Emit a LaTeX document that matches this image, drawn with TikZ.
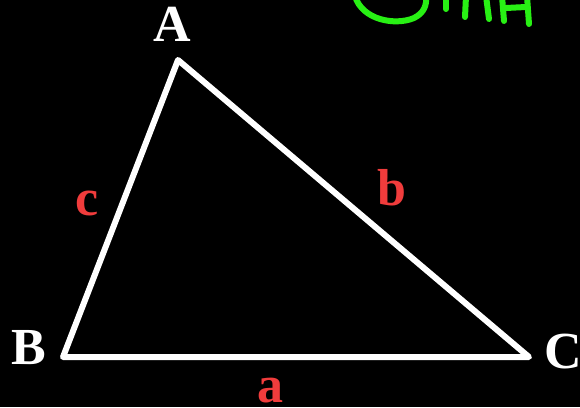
\documentclass[tikz,border=0pt]{standalone}
\usepackage{fontspec}
\setmainfont{Liberation Serif}
\usepackage{tikz}
\usetikzlibrary{positioning}
\usepackage{xcolor}
\definecolor{myred}{RGB}{240,60,60}
\definecolor{mygreen}{RGB}{40,240,20}

\tikzset{
  vertexlabel/.style={text=white, font=\bfseries\fontsize{52}{52}\selectfont, inner sep=0pt, anchor=base},
  sidelabel/.style={text=myred, font=\bfseries\fontsize{52}{52}\selectfont, inner sep=0pt, anchor=base},
  scribble/.style={mygreen, line width=6pt, line cap=round, line join=round}
}

\begin{document}
\begin{tikzpicture}[x=1pt,y=-1pt]
  \fill[black] (0,0) rectangle (580,407);
  \useasboundingbox (0,0) rectangle (580,407);

  \coordinate (A) at (178,60);
  \coordinate (B) at (63,357);
  \coordinate (C) at (529,357);

  % Triangle
  \draw[white, line width=6pt, line join=round] (A) -- (B) -- (C) -- cycle;

  % Vertex labels
  \node[vertexlabel] (labA) at (172,41) {A};
  \node[vertexlabel] (labB) at (29,364) {B};
  \node[vertexlabel] (labC) at (563,368) {C};

  % Side labels
  \node[sidelabel] (laba) at (270,402) {a};
  \node[sidelabel] (labb) at (392,205) {b};
  \node[sidelabel] (labc) at (87,215) {c};

  % Handwriting, cut off at the top
  \draw[scribble] (355,-4) .. controls (362,20) and (395,26) .. (414,18) .. controls (424,13) and (427,5) .. (426,-4);
  \draw[scribble] (446,-4) -- (446,9);
  \draw[scribble] (466,-4) -- (465,17);
  \draw[scribble] (486,-4) -- (489,19);
  \draw[scribble] (502,-4) -- (504,21);
  \draw[scribble] (506,8) -- (526,7);
  \draw[scribble] (527,-4) -- (529,24);
\end{tikzpicture}
\end{document}
